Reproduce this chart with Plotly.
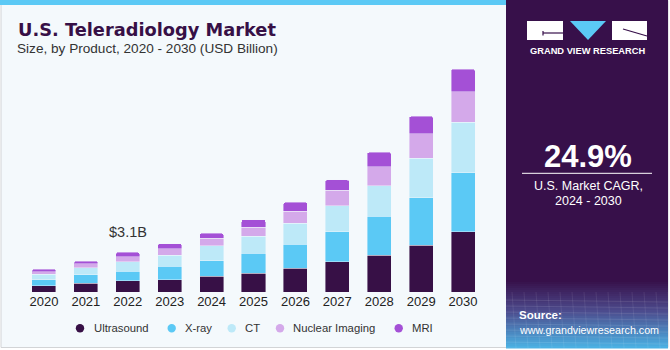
import plotly.graph_objects as go

years = ["2020", "2021", "2022", "2023", "2024", "2025", "2026", "2027", "2028", "2029", "2030"]
ultrasound = [0.47, 0.68, 0.86, 0.94, 1.25, 1.46, 1.87, 2.37, 2.89, 3.67, 4.69]
xray = [0.47, 0.65, 0.78, 1.09, 1.20, 1.56, 1.85, 2.32, 3.02, 3.69, 4.61]
ct = [0.45, 0.55, 0.73, 0.86, 1.15, 1.33, 1.64, 2.03, 2.37, 3.10, 3.96]
nuclear = [0.20, 0.31, 0.39, 0.49, 0.60, 0.70, 0.96, 1.22, 1.51, 1.90, 2.39]
mri = [0.19, 0.21, 0.34, 0.39, 0.39, 0.60, 0.68, 0.81, 1.12, 1.36, 1.75]
series_names = ["Ultrasound", "X-ray", "CT", "Nuclear Imaging", "MRI"]
series_values = [ultrasound, xray, ct, nuclear, mri]
colors = ["#371046", "#5bc9f5", "#bde9f8", "#d4a9ea", "#a450d6"]
label_year = "2022"
label_text = "$3.1B"

W, H = 670, 350
ML, MR, MT, MB = 23, 186, 60, 58
PW, PH = W - ML - MR, H - MT - MB
FONT = "Liberation Sans"
BG = "#f4f9fc"
DARK = "#37104a"


def px(x):
    return (x - ML) / PW


def py(y):
    return (H - MB - y) / PH


fig = go.Figure()
for name, vals, col in zip(series_names, series_values, colors):
    fig.add_trace(go.Bar(
        x=years, y=vals, name=name, marker_color=col,
        marker_line_color="rgba(244,249,252,0.7)", marker_line_width=0.6,
        showlegend=False, hoverinfo="skip",
    ))

shapes = []
# card background
shapes.append(dict(type="rect", xref="paper", yref="paper", x0=px(1), x1=px(668), y0=py(347.5), y1=py(0.5),
                   fillcolor=BG, line=dict(color="#d2d4d6", width=1), layer="below"))
# top stripe
shapes.append(dict(type="rect", xref="paper", yref="paper", x0=px(0), x1=px(506), y0=py(5), y1=py(0),
                   fillcolor="#5bc9f5", line=dict(width=0), layer="below"))
# dark panel
shapes.append(dict(type="rect", xref="paper", yref="paper", x0=px(506), x1=px(668), y0=py(348), y1=py(0),
                   fillcolor=DARK, line=dict(width=0), layer="below"))


def lerp(c1, c2, t):
    a = [int(c1[i:i + 2], 16) for i in (1, 3, 5)]
    b = [int(c2[i:i + 2], 16) for i in (1, 3, 5)]
    return "#" + "".join("%02x" % round(a[k] + (b[k] - a[k]) * t) for k in range(3))


g0, g1 = 280, 348
steps = 34
for i in range(steps):
    t = i / (steps - 1)
    if t < 0.45:
        c = lerp(DARK, "#4c4a8c", t / 0.45)
    else:
        c = lerp("#4c4a8c", "#4bb0e2", (t - 0.45) / 0.55)
    ya = g0 + (g1 - g0) * i / steps
    yb = g0 + (g1 - g0) * (i + 1) / steps
    shapes.append(dict(type="rect", xref="paper", yref="paper", x0=px(506), x1=px(668), y0=py(yb + 0.5), y1=py(ya),
                       fillcolor=c, line=dict(width=0), layer="below"))
# faint grid texture
for k in range(9):
    yy = 300 + k * 6
    shapes.append(dict(type="line", xref="paper", yref="paper", x0=px(506), x1=px(668), y0=py(yy), y1=py(yy + 2),
                       line=dict(color="rgba(255,255,255,0.10)", width=1), layer="below"))
for k in range(14):
    xx = 512 + k * 12
    shapes.append(dict(type="line", xref="paper", yref="paper", x0=px(xx), x1=px(xx + 4), y0=py(292), y1=py(348),
                       line=dict(color="rgba(255,255,255,0.08)", width=1), layer="below"))

# logo
shapes.append(dict(type="rect", xref="paper", yref="paper", x0=px(527), x1=px(563), y0=py(40), y1=py(21),
                   fillcolor="white", line=dict(width=0)))
shapes.append(dict(type="line", xref="paper", yref="paper", x0=px(543), x1=px(563), y0=py(33), y1=py(33),
                   line=dict(color=DARK, width=1.2)))
shapes.append(dict(type="line", xref="paper", yref="paper", x0=px(543), x1=px(543), y0=py(31), y1=py(35.5),
                   line=dict(color=DARK, width=1.2)))
shapes.append(dict(type="path", xref="paper", yref="paper",
                   path="M %f %f L %f %f L %f %f Z" % (px(570), py(21), px(606), py(21), px(588), py(40)),
                   fillcolor="#5bc9f5", line=dict(width=0)))
shapes.append(dict(type="rect", xref="paper", yref="paper", x0=px(612), x1=px(647), y0=py(40), y1=py(21),
                   fillcolor="white", line=dict(width=0)))
shapes.append(dict(type="line", xref="paper", yref="paper", x0=px(623), x1=px(647), y0=py(29), y1=py(36),
                   line=dict(color=DARK, width=1.2)))
# CAGR separator
shapes.append(dict(type="line", xref="paper", yref="paper", x0=px(522), x1=px(652), y0=py(173.3), y1=py(173.3),
                   line=dict(color="white", width=1)))

annotations = []


def txt(x, y, s, size, color, bold=False, xanchor="left", family=FONT):
    annotations.append(dict(
        xref="paper", yref="paper", x=px(x), y=py(y), xanchor=xanchor, yanchor="middle",
        text=("<b>%s</b>" % s) if bold else s, showarrow=False,
        font=dict(family=family, size=size, color=color),
    ))


txt(16, 29, "U.S. Teleradiology Market", 17.8, "#371046", bold=True, family="DejaVu Sans")
txt(15, 48.5, "Size, by Product, 2020 - 2030 (USD Billion)", 13.6, "#333333")
txt(587, 51, "GRAND VIEW RESEARCH", 9.3, "white", bold=True, xanchor="center")
txt(588, 156, "24.9%", 31, "white", bold=True, xanchor="center")
txt(588, 186, "U.S. Market CAGR,", 12.5, "white", xanchor="center")
txt(588, 201, "2024 - 2030", 12.5, "white", xanchor="center")
txt(517, 315, "Source:", 11.5, "white", bold=True)
txt(517, 330, "www.grandviewresearch.com", 10.7, "white")

# label above 2022 bar
idx = years.index(label_year)
total = sum(v[idx] for v in series_values)
annotations.append(dict(x=idx, y=total, xref="x", yref="y", text=label_text, showarrow=False,
                        yanchor="bottom", yshift=10, font=dict(family=FONT, size=14.5, color="#333333")))

# manual legend
legend_pos = [(80, 92), (171.7, 182.5), (231.7, 242.5), (280, 290.5), (398.7, 409.5)]
for (cx, tx), name, col in zip(legend_pos, series_names, colors):
    shapes.append(dict(type="circle", xref="paper", yref="paper", x0=px(cx - 4.2), x1=px(cx + 4.2),
                       y0=py(328.3 + 4.2), y1=py(328.3 - 4.2), fillcolor=col, line=dict(width=0)))
    txt(tx, 327.5, name, 11.3, "#333333")

fig.update_layout(
    width=W, height=H,
    margin=dict(l=ML, r=MR, t=MT, b=MB),
    paper_bgcolor="white", plot_bgcolor="rgba(0,0,0,0)",
    barmode="stack", bargap=0.427, barcornerradius=2,
    showlegend=False,
    shapes=shapes, annotations=annotations,
    xaxis=dict(type="category", range=[-0.5, 10.5], showgrid=False, zeroline=False, showline=False,
               ticks="", tickfont=dict(family=FONT, size=13, color="#222222")),
    yaxis=dict(range=[0, 18.12], visible=False, showgrid=False, zeroline=False),
)

fig.write_html("out.html")
